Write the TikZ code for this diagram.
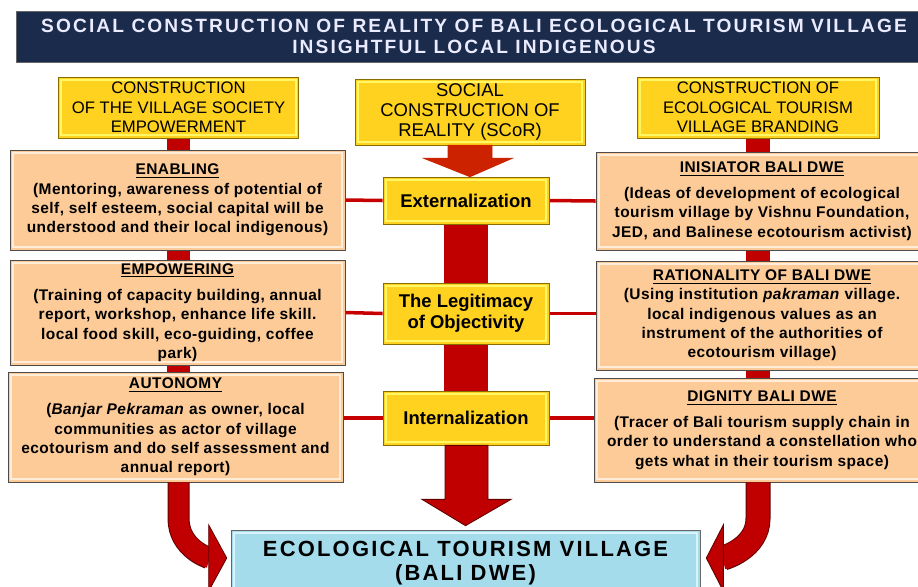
\documentclass[tikz,border=0pt]{standalone}
\usepackage{fontspec}
\setmainfont{Liberation Sans}
\usetikzlibrary{calc}
\definecolor{navy}{HTML}{1B2B4B}
\definecolor{gold}{HTML}{FFD21F}
\definecolor{goldrim}{HTML}{8A6D00}
\definecolor{peach}{HTML}{FCCB98}
\definecolor{skyblue}{HTML}{A4DCEC}
\definecolor{barred}{HTML}{C00000}
\definecolor{scorred}{HTML}{CC2200}
\pgfdeclarelayer{background}
\pgfsetlayers{background,main}
\tikzset{bevel/.style={path picture={\draw[#1,line width=1.2pt] ([shift={(1.6pt,1.6pt)}]path picture bounding box.south west) rectangle ([shift={(-1.6pt,-1.6pt)}]path picture bounding box.north east);}},
  headbox/.style={draw=goldrim,fill=gold,bevel=yellow!60,align=center,inner sep=2pt},
  stepbox/.style={draw=goldrim,fill=gold,bevel=yellow!60,align=center,minimum width=3.32cm,font=\fontsize{10.5}{12}\selectfont\bfseries},
  factbox/.style={draw=black!70,fill=peach,bevel=orange!15,align=center,inner sep=1pt,font=\fontsize{8.8}{11}\selectfont\bfseries\addfontfeatures{LetterSpace=3}},
  bar/.style={barred,line width=#1},
  link/.style={barred!90!red,line width=2pt},
  fatarrow/.style={fill=barred,draw=barred!50!black,line width=0.5pt}}
\begin{document}
\begin{tikzpicture}[x=0.02cm,y=-0.02cm]
\useasboundingbox (0,0) rectangle (918,586);
\clip (0,0) rectangle (918,586);
% title
\node[fill=navy,draw=black!60,minimum width=18.3cm,minimum height=1.02cm,align=center,text=white!92!blue,
  font=\fontsize{10.9}{11.8}\selectfont\bfseries\addfontfeatures{LetterSpace=11}] (title) at (474,36.5)
  {SOCIAL CONSTRUCTION OF REALITY OF BALI ECOLOGICAL TOURISM VILLAGE\\INSIGHTFUL LOCAL INDIGENOUS};
% headers
\node[headbox,minimum width=4.8cm,minimum height=1.22cm,font=\fontsize{9.5}{11}\selectfont] (hl) at (178.5,107.5)
  {CONSTRUCTION\\OF THE VILLAGE SOCIETY\\EMPOWERMENT};
\node[headbox,minimum width=4.6cm,minimum height=1.32cm,font=\fontsize{10.5}{11.2}\selectfont] (hm) at (470,112)
  {SOCIAL\\CONSTRUCTION OF\\REALITY (SCoR)};
\node[headbox,minimum width=4.84cm,minimum height=1.22cm,font=\fontsize{9.5}{11}\selectfont] (hr) at (758,107.5)
  {CONSTRUCTION OF\\ECOLOGICAL TOURISM\\VILLAGE BRANDING};
% left column
\node[factbox,minimum width=6.7cm,minimum height=2cm] (enab) at (177.5,200)
  {\underline{ENABLING}\\(Mentoring, awareness of potential of\\self, self esteem, social capital will be\\understood and their local indigenous)};
\node[factbox,minimum width=6.7cm,minimum height=2.1cm] (empw) at (177.5,312.5)
  {\underline{EMPOWERING}\\[4pt](Training of capacity building, annual\\report, workshop, enhance life skill.\\local food skill, eco-guiding, coffee\\park)};
\node[factbox,minimum width=6.7cm,minimum height=2.2cm] (auton) at (175.5,427)
  {\underline{AUTONOMY}\\[4pt](\textit{Banjar Pekraman} as owner, local\\communities as actor of village\\ecotourism and do self assessment and\\annual report)};
% middle column
\node[stepbox,minimum height=0.94cm] (ext) at (466,200.5) {Externalization};
\node[stepbox,minimum height=1.22cm] (legit) at (466,313.5) {The Legitimacy\\of Objectivity};
\node[stepbox,minimum height=1.08cm] (intern) at (466,418) {Internalization};
% right column
\node[factbox,minimum width=6.64cm,minimum height=1.96cm] (inis) at (762,201)
  {\underline{INISIATOR BALI DWE}\\[4pt](Ideas of development of ecological\\tourism village by Vishnu Foundation,\\JED, and Balinese ecotourism activist)};
\node[factbox,minimum width=6.64cm,minimum height=2.18cm] (ratio) at (762,315.5)
  {\underline{RATIONALITY OF BALI DWE}\\(Using institution \textit{pakraman} village.\\local indigenous values as an\\instrument of the authorities of\\ecotourism village)};
\node[factbox,minimum width=6.72cm,minimum height=2.08cm] (dign) at (762,430)
  {\underline{DIGNITY BALI DWE}\\[4pt](Tracer of Bali tourism supply chain in\\order to understand a constellation who\\gets what in their tourism space)};
% goal
\node[draw=black!60,fill=skyblue,bevel=cyan!15,minimum width=9.38cm,minimum height=1.32cm,align=center,
  font=\fontsize{12.5}{14}\selectfont\bfseries\addfontfeatures{LetterSpace=10}] (goal) at (465.5,563)
  {ECOLOGICAL TOURISM VILLAGE\\(BALI DWE)};
% bars and links behind the boxes
\begin{pgfonlayer}{background}
\draw[bar=0.46cm] (hl.south) -- (hl.south |- auton.north);
\draw[bar=0.48cm] (hr.south) -- (hr.south |- dign.north);
\draw[bar=0.88cm] (ext.center) -- (intern.center);
\draw[link] (enab.east) -- (ext.west);
\draw[link] (empw.east) -- (legit.west);
\draw[link] (intern.west) -- (intern.west -| auton.east);
\draw[link] (ext.east) -- (inis.west);
\draw[link] (legit.east) -- (legit.east -| ratio.west);
\draw[link] (intern.east) -- (intern.east -| dign.west);
\end{pgfonlayer}
% fat arrows
\draw[fatarrow,fill=scorred,draw=scorred] ($(hm.south)+(-22,0)$) -- ($(hm.south)+(22,0)$) -- ($(hm.south)+(22,13)$)
  -- ($(hm.south)+(42,13)$) -- (hm.south |- ext.north) -- ($(hm.south)+(-46,13)$) -- ($(hm.south)+(-22,13)$) -- cycle;
\draw[fatarrow] ($(intern.south)+(-21,0)$) -- ($(intern.south)+(22,0)$) -- ($(intern.south)+(22,54)$)
  -- ($(intern.south)+(45,54)$) -- ($(goal.north)+(0,-4)$) -- ($(intern.south)+(-44,54)$) -- ($(intern.south)+(-21,54)$) -- cycle;
\coordinate (lturn) at ($(goal.west)+(-22,-5)$);
\coordinate (rturn) at ($(goal.east)+(23,-5)$);
\draw[barred!50!black,line width=0.44cm] (auton.south -| hl.south) -- ++(0,36) .. controls +(0,30) and (lturn) .. (lturn);
\draw[barred,line width=0.4cm] (auton.south -| hl.south) -- ++(0,36) .. controls +(0,30) and (lturn) .. ($(lturn)+(1,0)$);
\draw[fatarrow] ($(lturn)+(0,-33)$) -- ($(goal.west)+(-4,-5)$) -- ($(lturn)+(0,33)$) -- cycle;
\draw[barred!50!black,line width=0.5cm] (dign.south -| hr.south) -- ++(0,36) .. controls +(0,30) and (rturn) .. (rturn);
\draw[barred,line width=0.46cm] (dign.south -| hr.south) -- ++(0,36) .. controls +(0,30) and (rturn) .. ($(rturn)+(-1,0)$);
\draw[fatarrow] ($(rturn)+(0,-33)$) -- ($(goal.east)+(6,-5)$) -- ($(rturn)+(0,33)$) -- cycle;
\end{tikzpicture}
\end{document}
